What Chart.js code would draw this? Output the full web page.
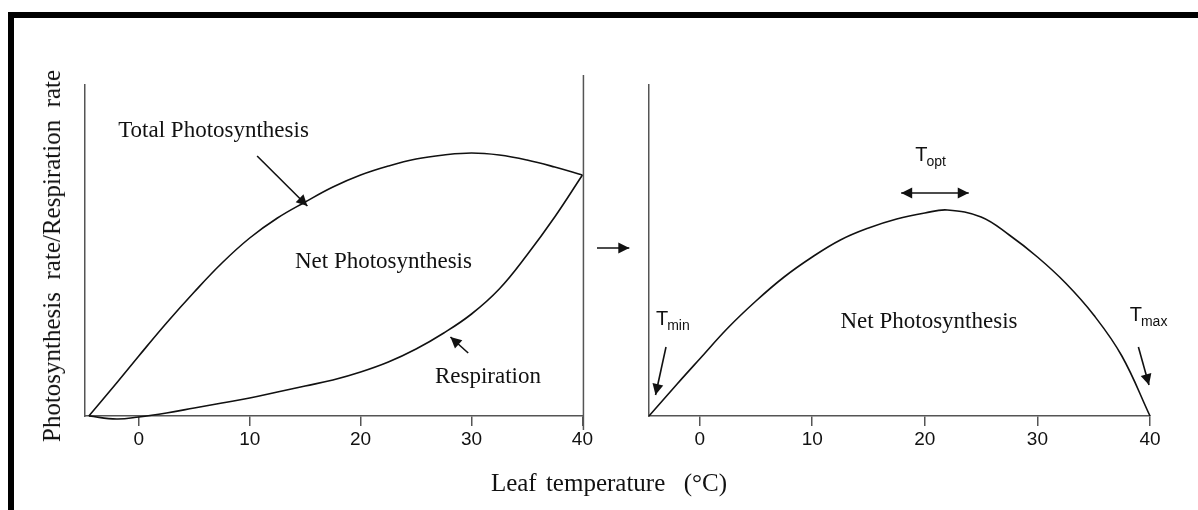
<!DOCTYPE html>
<html lang="en">
<head>
<meta charset="UTF-8">
<title>Photosynthesis and leaf temperature</title>
<script src="https://cdn.jsdelivr.net/npm/chart.js"></script>
<style>
  body { margin: 0; background: #fff; }
  #page { position: relative; width: 1198px; height: 510px; overflow: hidden; background: #fff; }
  #frame { position: absolute; left: 8px; top: 12px; width: 1200px; height: 510px;
           border-top: 6px solid #000; border-left: 6px solid #000; }
  canvas { position: absolute; top: 0; }
  #left { left: 0; }
  #right { left: 590px; }
  .lab { position: absolute; font-family: "Liberation Serif", "Times New Roman", serif; color: #111;
         white-space: nowrap; transform: translate(-50%, -50%); }
  #ylab { left: 52px; top: 256px; font-size: 25px; transform: translate(-50%, -50%) rotate(-90deg); }
  #xlab { left: 609px; top: 483px; font-size: 25px; word-spacing: 3px; }
</style>
</head>
<body>
<div id="page">
  <div id="frame"></div>
  <canvas id="left" width="595" height="510"></canvas>
  <canvas id="right" width="608" height="510"></canvas>
  <div class="lab" id="ylab">Photosynthesis&nbsp; rate/Respiration&nbsp; rate</div>
  <div class="lab" id="xlab">Leaf temperature&nbsp; (°C)</div>
</div>
<script>
// leaf temperature (°C) and relative rates
const tempsLeft = [-4.5, -2, 0, 2.5, 5, 7.5, 10, 12.5, 15, 17.5, 20, 22.5, 25, 27.5, 30, 32.5, 35, 37.5, 40];
const totalPhoto = [0, 33, 60, 93, 124, 153, 178, 198, 214, 229, 241, 250, 257, 261, 263, 261, 256, 249, 241];
const respiration = [0, -3, -1, 3, 8, 13, 18, 24, 30, 36, 44, 54, 67, 83, 102, 127, 161, 199, 241];

const tempsRight = [-4.5, -2, 0, 2.5, 5, 7.5, 10, 12.5, 15, 17.5, 20, 22, 25, 27.5, 30, 32.5, 35, 37.5, 40];
const netPhoto = [0, 32, 57, 88, 115, 139, 159, 176, 188, 197, 203, 206, 199, 181, 159, 133, 101, 60, 0];

const xTicks = [0, 10, 20, 30, 40];

const INK = '#111';
const AXIS = '#555';
const SERIF = '"Liberation Serif", "Times New Roman", serif';
const SANS = '"Liberation Sans", Arial, sans-serif';

function pts(xs, ys) {
  return xs.map((x, i) => ({ x: x, y: ys[i] }));
}

function arrowHead(ctx, x1, y1, x2, y2, len, half) {
  const a = Math.atan2(y2 - y1, x2 - x1);
  ctx.beginPath();
  ctx.moveTo(x2, y2);
  ctx.lineTo(x2 - len * Math.cos(a) + half * Math.sin(a), y2 - len * Math.sin(a) - half * Math.cos(a));
  ctx.lineTo(x2 - len * Math.cos(a) - half * Math.sin(a), y2 - len * Math.sin(a) + half * Math.cos(a));
  ctx.closePath();
  ctx.fill();
}

function arrow(ctx, x1, y1, x2, y2, both) {
  ctx.save();
  ctx.strokeStyle = INK;
  ctx.fillStyle = INK;
  ctx.lineWidth = 1.6;
  ctx.beginPath();
  ctx.moveTo(x1, y1);
  ctx.lineTo(x2, y2);
  ctx.stroke();
  arrowHead(ctx, x1, y1, x2, y2, 11, 5.5);
  if (both) arrowHead(ctx, x2, y2, x1, y1, 11, 5.5);
  ctx.restore();
}

function tLabel(ctx, x, y, sub) {
  ctx.save();
  ctx.fillStyle = INK;
  ctx.textBaseline = 'alphabetic';
  ctx.textAlign = 'left';
  ctx.font = '20px ' + SANS;
  ctx.fillText('T', x, y);
  const w = ctx.measureText('T').width;
  ctx.font = '14px ' + SANS;
  ctx.fillText(sub, x + w - 1, y + 5);
  ctx.restore();
}

function serifText(ctx, s, x, y, align) {
  ctx.save();
  ctx.fillStyle = INK;
  ctx.font = '23px ' + SERIF;
  ctx.textAlign = align;
  ctx.textBaseline = 'alphabetic';
  ctx.fillText(s, x, y);
  ctx.restore();
}

// annotations for the left panel, placed in data units
const leftNotes = {
  id: 'leftNotes',
  afterDraw(chart) {
    const ctx = chart.ctx, xs = chart.scales.x, ys = chart.scales.y;
    const X = v => xs.getPixelForValue(v), Y = v => ys.getPixelForValue(v);
    // right-hand frame line of the panel
    ctx.save();
    ctx.strokeStyle = AXIS;
    ctx.lineWidth = 1.5;
    ctx.beginPath();
    ctx.moveTo(X(40) + 1, Y(341));
    ctx.lineTo(X(40) + 1, Y(-14));
    ctx.stroke();
    ctx.restore();
    serifText(ctx, 'Total Photosynthesis', X(-1.86), Y(279), 'left');
    serifText(ctx, 'Net Photosynthesis', X(22.06), Y(148), 'center');
    serifText(ctx, 'Respiration', X(31.48), Y(33), 'center');
    arrow(ctx, X(10.67), Y(260), X(15.2), Y(210));
    arrow(ctx, X(29.7), Y(63), X(28.1), Y(79));
  }
};

// annotations for the right panel
const rightNotes = {
  id: 'rightNotes',
  afterDraw(chart) {
    const ctx = chart.ctx, xs = chart.scales.x, ys = chart.scales.y;
    const X = v => xs.getPixelForValue(v), Y = v => ys.getPixelForValue(v);
    serifText(ctx, 'Net Photosynthesis', X(20.37), Y(88), 'center');
    tLabel(ctx, X(-3.88), Y(91), 'min');
    tLabel(ctx, X(38.2), Y(95), 'max');
    tLabel(ctx, X(19.15), Y(255), 'opt');
    arrow(ctx, X(17.9), Y(223), X(23.9), Y(223), true);
    arrow(ctx, X(-2.99), Y(69), X(-3.92), Y(21));
    arrow(ctx, X(38.97), Y(69), X(39.91), Y(31));
    // arrow linking the two panels
    arrow(ctx, X(-9.12), Y(168), X(-6.25), Y(168));
  }
};

function lineSet(data) {
  return {
    data: data,
    borderColor: INK,
    borderWidth: 1.6,
    pointRadius: 0,
    fill: false,
    clip: false,
    tension: 0.4
  };
}

function panel(id, datasets, xMin, pad, notes) {
  return new Chart(document.getElementById(id), {
    type: 'line',
    data: { datasets: datasets },
    options: {
      responsive: false,
      animation: false,
      devicePixelRatio: 1,
      layout: { padding: pad },
      plugins: { legend: { display: false }, tooltip: { enabled: false } },
      scales: {
        x: {
          type: 'linear',
          min: xMin,
          max: 40,
          afterBuildTicks: s => { s.ticks = xTicks.map(v => ({ value: v })); },
          afterFit: s => { s.height = 94; },
          grid: { drawOnChartArea: false, drawTicks: true, tickLength: 10, color: AXIS, lineWidth: 1.5 },
          border: { color: AXIS, width: 1.5 },
          ticks: { color: INK, padding: 2, maxRotation: 0, font: { family: SANS, size: 19 } }
        },
        y: {
          min: 0,
          max: 331,
          afterFit: s => { s.width = 0; },
          grid: { display: false },
          border: { color: AXIS, width: 1.5 },
          ticks: { display: false }
        }
      }
    },
    plugins: [notes]
  });
}

panel('left',
  [lineSet(pts(tempsLeft, totalPhoto)), lineSet(pts(tempsLeft, respiration))],
  -4.85, { left: 85, right: 10, top: 85, bottom: 0 }, leftNotes);

panel('right',
  [lineSet(pts(tempsRight, netPhoto))],
  -4.5, { left: 59, right: 48, top: 85, bottom: 0 }, rightNotes);
</script>
</body>
</html>
